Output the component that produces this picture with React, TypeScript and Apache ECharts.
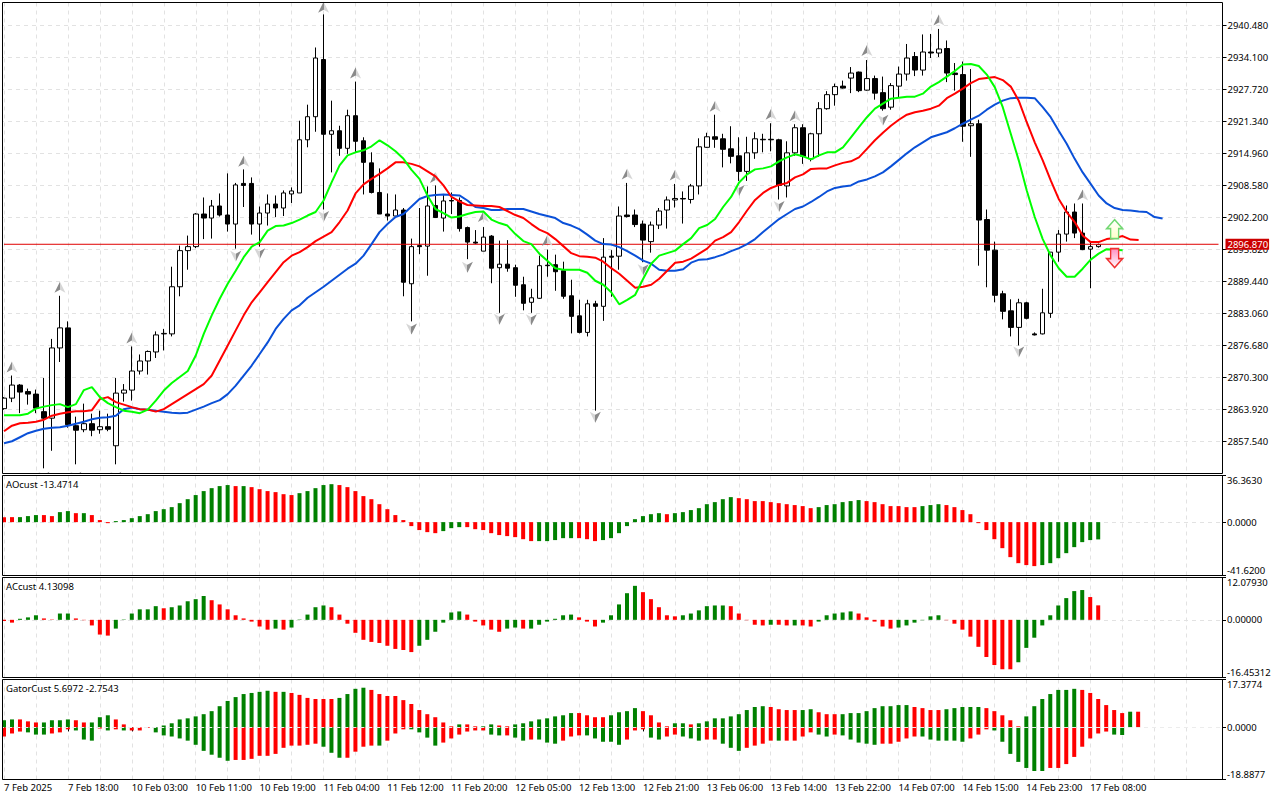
import React, { useEffect, useRef } from "react";
import * as echarts from "echarts";

const timeLabels = ["7 Feb 2025","7 Feb 18:00","10 Feb 03:00","10 Feb 11:00","10 Feb 19:00","11 Feb 04:00","11 Feb 12:00","11 Feb 20:00","12 Feb 05:00","12 Feb 13:00","12 Feb 21:00","13 Feb 06:00","13 Feb 14:00","13 Feb 22:00","14 Feb 07:00","14 Feb 15:00","14 Feb 23:00","17 Feb 08:00"];
const barSlots = 153;
const priceTicks = [2857.54,2863.92,2870.3,2876.68,2883.06,2889.44,2895.82,2902.2,2908.58,2914.96,2921.34,2927.72,2934.1,2940.48];
const lastPrice = 2896.87;

// open, close, low, high
const candles = [
[2864.1,2866.2,2863.9,2866.4],[2866.2,2868.8,2865.4,2870.7],[2868.8,2867.4,2863.2,2869.0],[2867.5,2867.0,2864.9,2868.1],[2867.0,2864.2,2863.2,2867.9],
[2863.5,2862.2,2852.2,2870.2],[2862.2,2876.2,2855.7,2878.0],[2876.2,2880.2,2873.4,2886.6],[2880.2,2860.9,2860.3,2881.5],[2860.7,2859.8,2853.0,2862.5],
[2859.9,2861.1,2859.4,2865.1],[2861.1,2859.8,2858.6,2863.1],[2859.9,2860.5,2859.1,2863.7],[2860.5,2860.0,2859.6,2863.1],[2856.7,2867.2,2853.0,2870.2],
[2867.2,2867.8,2865.5,2869.0],[2867.8,2871.6,2865.7,2876.5],[2871.6,2873.6,2870.9,2874.9],[2873.6,2875.5,2870.9,2875.7],[2875.4,2878.8,2874.2,2879.5],
[2879.0,2879.1,2875.7,2880.0],[2879.0,2888.4,2878.5,2892.4],[2888.4,2895.6,2886.5,2896.6],[2895.6,2896.4,2891.8,2898.6],[2896.4,2902.9,2896.1,2903.1],
[2902.9,2902.1,2897.9,2906.2],[2902.1,2904.5,2898.0,2905.7],[2904.5,2902.7,2902.4,2907.0],[2902.7,2900.9,2899.4,2911.0],[2900.9,2908.7,2896.0,2909.1],
[2909.0,2908.6,2904.3,2911.8],[2909.0,2900.9,2898.8,2910.2],[2900.9,2903.1,2896.4,2904.4],[2903.1,2904.9,2900.6,2906.8],[2904.9,2904.1,2902.3,2906.6],
[2904.1,2907.1,2902.5,2907.6],[2906.9,2907.5,2905.1,2908.2],[2907.1,2917.7,2907.1,2921.5],[2917.7,2922.3,2916.2,2924.7],[2922.3,2934.0,2919.3,2936.1],
[2933.7,2918.8,2903.8,2942.7],[2918.8,2919.5,2911.2,2925.5],[2919.5,2916.0,2914.5,2920.5],[2916.0,2922.5,2914.9,2923.7],[2922.5,2917.4,2915.2,2929.3],
[2917.5,2913.2,2906.8,2918.2],[2913.1,2907.2,2907.0,2915.2],[2907.2,2902.9,2902.9,2912.0],[2902.9,2902.5,2901.6,2907.0],[2902.5,2903.7,2902.1,2906.8],
[2903.7,2889.3,2886.5,2904.1],[2889.0,2896.4,2881.5,2898.0],[2896.6,2896.4,2894.9,2904.1],[2896.5,2904.5,2890.6,2908.4],[2904.6,2902.2,2902.1,2908.6],
[2902.1,2905.5,2899.4,2906.9],[2905.6,2905.5,2902.9,2907.2],[2905.6,2900.0,2899.4,2906.2],[2900.2,2897.3,2893.9,2900.4],[2897.3,2897.1,2896.9,2899.7],
[2895.5,2898.3,2895.5,2900.3],[2898.5,2892.1,2889.1,2898.7],[2892.2,2892.9,2883.2,2897.6],[2892.9,2892.1,2891.4,2897.7],[2892.2,2888.7,2886.4,2892.8],
[2888.8,2885.1,2883.7,2890.4],[2885.3,2886.2,2883.2,2888.0],[2886.1,2892.6,2886.0,2894.6],[2892.7,2892.6,2890.4,2895.8],[2892.8,2891.4,2887.6,2894.8],
[2891.6,2886.5,2886.0,2893.4],[2886.6,2882.5,2879.1,2889.8],[2882.6,2879.3,2879.1,2885.8],[2879.3,2885.0,2878.5,2885.8],[2885.0,2884.5,2863.7,2885.6],
[2884.5,2894.3,2881.6,2898.1],[2894.5,2894.3,2886.4,2895.7],[2894.5,2902.5,2891.8,2904.4],[2902.7,2902.4,2902.2,2909.1],[2902.7,2900.8,2900.3,2903.8],
[2900.9,2897.7,2893.3,2901.6],[2897.4,2900.7,2895.2,2901.4],[2900.7,2903.5,2899.9,2904.1],[2903.7,2905.7,2900.0,2906.4],[2905.7,2906.0,2904.2,2908.9],
[2906.0,2905.9,2901.0,2907.4],[2905.8,2908.5,2905.0,2908.9],[2908.5,2916.3,2906.8,2918.0],[2916.2,2918.3,2916.1,2919.1],[2918.3,2917.8,2916.1,2922.7],
[2917.9,2915.8,2912.2,2918.9],[2915.9,2914.4,2913.0,2920.4],[2914.5,2911.4,2909.5,2918.2],[2911.4,2915.1,2909.5,2918.3],[2915.1,2917.9,2913.9,2919.2],
[2917.8,2917.7,2915.2,2918.9],[2917.8,2917.7,2915.4,2921.0],[2917.7,2908.6,2905.8,2917.9],[2908.5,2915.1,2906.2,2917.4],[2915.1,2920.1,2914.5,2920.8],
[2920.1,2914.4,2912.9,2920.8],[2913.9,2918.9,2913.4,2919.1],[2918.9,2923.9,2914.3,2925.2],[2923.9,2926.7,2923.7,2927.4],[2926.7,2928.3,2924.5,2928.9],
[2928.4,2928.0,2927.9,2929.5],[2930.0,2931.0,2927.0,2932.2],[2931.2,2927.5,2927.2,2931.3],[2927.6,2929.9,2927.5,2933.6],[2929.9,2927.0,2925.7,2930.5],
[2927.1,2923.9,2923.5,2930.3],[2924.2,2928.5,2923.7,2929.0],[2928.4,2930.8,2926.2,2932.3],[2930.8,2934.0,2929.5,2936.8],[2934.3,2931.6,2930.4,2935.2],
[2931.6,2935.2,2930.5,2938.7],[2935.2,2935.0,2934.0,2938.8],[2935.0,2935.8,2934.2,2939.8],[2935.9,2931.0,2929.2,2937.5],[2931.0,2930.7,2927.5,2933.0],
[2930.7,2920.4,2917.3,2933.3],[2920.5,2920.9,2914.3,2931.8],[2920.9,2901.7,2892.6,2921.7],[2901.8,2895.7,2888.3,2903.8],[2895.7,2886.7,2885.3,2897.4],
[2887.0,2883.5,2881.9,2887.6],[2883.6,2880.3,2878.5,2885.9],[2880.3,2885.2,2876.7,2886.0],[2885.2,2882.1,2881.9,2885.4],[2879.0,2878.8,2878.7,2879.3],
[2879.0,2883.2,2878.9,2888.0],[2883.1,2895.3,2882.2,2895.3],[2895.3,2898.9,2893.4,2899.7],[2898.9,2903.3,2897.4,2904.6],[2903.3,2899.1,2898.1,2905.0],
[2899.1,2895.8,2895.7,2905.0],[2895.9,2896.4,2888.1,2897.5],[2896.4,2896.8,2896.2,2897.0],
];

const greenLine = [
2862.8,2862.8,2862.8,2863.1,2864.1,2864.5,2864.8,2865.0,2864.4,2865.0,
2867.8,2868.4,2866.4,2865.2,2864.4,2863.7,2863.5,2863.2,2863.9,2865.7,
2867.7,2869.2,2870.4,2871.6,2874.7,2879.0,2882.7,2886.0,2889.0,2891.6,
2894.3,2896.4,2897.3,2899.6,2900.5,2900.6,2901.1,2901.8,2902.6,2903.3,
2905.6,2909.2,2912.6,2914.6,2915.2,2915.6,2916.4,2917.6,2916.6,2915.4,
2913.9,2911.7,2909.9,2906.6,2903.9,2903.1,2902.2,2902.4,2902.9,2903.3,
2903.4,2901.8,2901.1,2900.6,2898.9,2897.5,2896.9,2895.0,2893.6,2892.1,
2891.8,2891.8,2891.8,2891.2,2889.6,2888.8,2887.3,2884.9,2885.8,2886.8,
2890.0,2893.0,2894.6,2895.1,2895.6,2896.9,2898.1,2900.1,2900.7,2901.9,
2904.3,2906.3,2909.2,2910.8,2911.8,2912.0,2912.4,2913.4,2914.2,2914.8,
2914.4,2913.8,2914.6,2915.2,2915.2,2916.2,2918.2,2920.2,2922.2,2923.9,
2924.9,2925.9,2926.1,2926.3,2926.3,2926.9,2928.3,2929.2,2930.3,2931.4,
2932.7,2932.8,2932.4,2930.7,2928.2,2924.2,2918.9,2913.6,2907.6,2902.3,
2897.9,2894.6,2892.1,2890.4,2890.4,2892.0,2893.8,2895.0,2895.9,2895.8,
2895.7,
];
const redLine = [
2859.6,2860.7,2861.2,2861.3,2861.5,2861.9,2862.7,2863.1,2863.4,2863.6,
2863.6,2863.8,2866.0,2866.4,2865.4,2864.9,2864.4,2864.0,2863.9,2863.5,
2864.0,2865.0,2866.0,2867.0,2868.0,2869.0,2870.7,2873.7,2876.7,2879.7,
2882.7,2885.3,2887.3,2889.3,2891.3,2893.3,2894.6,2895.3,2896.3,2897.5,
2898.4,2899.3,2901.3,2903.6,2907.0,2908.8,2909.9,2910.9,2912.0,2913.2,
2913.2,2912.9,2912.4,2911.4,2910.4,2908.6,2906.3,2905.4,2904.7,2904.6,
2904.5,2904.5,2904.3,2903.5,2902.7,2902.1,2900.9,2899.8,2899.1,2897.9,
2896.5,2895.1,2894.5,2894.4,2894.2,2893.4,2892.1,2891.0,2889.6,2888.2,
2888.4,2888.8,2890.0,2891.6,2893.2,2893.4,2894.0,2895.0,2896.0,2897.6,
2898.3,2899.3,2901.3,2903.6,2905.7,2907.1,2908.1,2908.7,2909.1,2910.2,
2910.8,2911.9,2912.0,2912.0,2912.6,2913.1,2913.4,2914.2,2915.9,2917.6,
2919.1,2920.5,2921.7,2922.7,2923.2,2923.5,2923.9,2924.5,2926.0,2926.9,
2927.9,2929.0,2929.8,2930.0,2930.2,2929.6,2928.3,2925.5,2921.2,2917.2,
2913.6,2909.6,2905.9,2903.3,2901.3,2898.6,2897.3,2897.3,2897.9,2898.1,
2898.5,2897.8,2897.7,
];
const blueLine = [
2857.2,2857.6,2858.4,2859.2,2859.7,2860.1,2860.3,2860.4,2860.7,2861.1,
2861.5,2862.0,2862.3,2862.4,2862.7,2864.0,2864.3,2864.0,2863.9,2863.7,
2863.5,2863.3,2863.2,2863.3,2863.9,2864.5,2865.2,2865.8,2867.0,2868.7,
2870.7,2872.7,2875.0,2877.3,2880.0,2882.0,2883.7,2884.7,2886.2,2887.3,
2888.4,2889.6,2890.8,2892.0,2893.0,2894.6,2896.9,2899.3,2900.9,2902.3,
2902.9,2904.4,2905.9,2906.5,2906.7,2906.8,2906.7,2906.6,2905.6,2904.3,
2904.1,2903.7,2903.7,2903.9,2903.9,2903.9,2903.4,2902.9,2902.5,2902.1,
2901.1,2900.6,2899.9,2898.8,2897.6,2896.9,2896.8,2896.3,2895.5,2894.6,
2893.6,2893.0,2891.8,2891.6,2891.6,2891.9,2893.2,2893.8,2893.9,2894.3,
2894.8,2895.5,2896.1,2896.9,2897.9,2899.3,2900.6,2901.9,2902.9,2903.9,
2904.4,2905.3,2906.3,2907.4,2908.1,2908.4,2908.6,2909.4,2909.8,2910.4,
2911.2,2912.4,2913.7,2915.0,2916.2,2917.2,2918.2,2918.7,2919.2,2920.0,
2920.9,2921.7,2922.5,2923.7,2924.7,2925.5,2926.0,2926.1,2926.1,2926.0,
2924.2,2922.2,2919.5,2916.9,2913.9,2911.2,2908.9,2906.6,2905.0,2904.1,
2903.7,2903.6,2903.4,2903.3,2902.3,2902.0,
];

// [bar index, price] of the fractal marks
const fractalsUp = [[1,2872.4],[7,2888.3],[16,2878.2],[30,2913.4],[40,2944.1],[44,2931.0],[54,2910.2],[60,2902.4],[68,2897.6],[78,2910.9],[84,2910.7],[89,2924.4],[96,2922.8],[99,2922.5],[108,2935.5],[117,2941.6],[135,2906.7]];
const fractalsDown = [[5,2850.4],[9,2850.4],[14,2850.4],[29,2894.5],[32,2895.0],[40,2902.4],[51,2880.0],[58,2892.3],[62,2881.9],[66,2881.8],[74,2862.4],[80,2891.8],[92,2907.6],[97,2904.4],[110,2921.6],[127,2875.4]];
const signalUp = [[139,2899.9]];
const signalDown = [[139,2894.1]];
const lastPriceSpan = [[0,lastPrice],[152,lastPrice]];

const aoValues = [
3.9,3.9,3.9,4.7,5.5,5.5,4.7,7.8,8.6,7.0,
7.0,5.5,1.6,-0.8,0.8,1.6,3.1,4.7,6.2,8.6,
10.1,11.7,14.8,17.9,21.1,24.2,26.5,28.1,28.9,28.1,
28.1,27.3,25.7,24.2,23.4,21.8,21.1,22.6,24.2,26.5,
28.9,29.6,28.9,27.3,24.2,20.3,17.9,14.0,10.1,5.5,
1.6,-3.1,-6.2,-7.8,-8.6,-7.0,-4.7,-3.9,-3.9,-5.5,
-6.2,-8.6,-10.1,-10.9,-11.7,-13.3,-14.8,-14.8,-14.8,-14.0,
-12.5,-12.5,-12.5,-13.3,-14.8,-14.0,-12.5,-8.6,-3.1,2.3,
4.7,6.2,7.0,6.2,7.0,7.8,9.4,10.9,14.0,15.6,
17.9,19.5,18.7,17.9,16.4,16.4,15.6,14.8,14.0,13.3,
12.5,10.9,11.7,13.3,14.0,15.6,16.4,17.2,16.4,15.6,
14.0,12.5,12.5,11.7,11.7,12.5,13.3,14.0,13.3,11.7,
9.4,6.2,-0.8,-6.2,-13.3,-20.3,-27.3,-32.0,-33.5,-34.3,
-33.5,-32.0,-28.1,-24.2,-19.5,-15.6,-14.0,-13.47,
];
const aoDirections = "rrgggrrggr"+"grrrgggggg"+"gggggggggr"+"grrrrrrggg"+"ggrrrrrrrr"+"rrrrrgggrr"+"rrrrrrrggg"+"ggrrrggggg"+"gggrgggggg"+"ggrrrrrrrr"+"rrggggggrr"+"rrrrrgggrr"+"rrrrrrrrrr"+"gggggggg";

const acValues = [
-0.3,-0.8,0.3,0.7,1.3,0.4,0.1,1.8,1.8,0.4,
-0.1,-1.6,-4.2,-4.5,-2.5,0.1,1.8,3.0,3.0,3.9,
3.3,3.6,4.1,5.3,5.9,6.8,5.6,4.4,3.0,1.3,
0.4,-0.5,-1.9,-2.8,-2.5,-2.8,-2.2,0.1,1.5,3.6,
4.1,3.6,1.5,-1.1,-3.7,-5.7,-6.3,-6.6,-7.4,-8.3,
-8.6,-9.2,-7.4,-5.7,-3.4,-0.8,2.1,2.4,1.5,-0.5,
-1.6,-2.8,-3.4,-2.5,-2.2,-2.5,-2.5,-1.4,-0.5,0.3,
1.3,1.5,0.7,-0.5,-1.9,-0.8,1.3,4.4,7.6,9.7,
7.9,5.9,3.6,1.3,1.0,1.3,1.8,2.7,3.9,4.1,
4.1,3.9,1.8,-0.1,-1.4,-1.6,-1.4,-1.4,-1.6,-1.6,
-1.6,-1.9,-0.5,1.3,1.8,2.1,2.4,1.8,0.7,-0.5,
-1.9,-2.5,-2.2,-1.6,-0.8,-0.1,1.0,1.3,-0.1,-1.1,
-2.8,-4.8,-7.7,-10.6,-12.9,-14.1,-14.1,-12.1,-8.0,-5.1,
-1.6,1.3,4.1,6.2,8.2,8.5,6.5,4.13,
];
const acDirections = "rrgggrrggr"+"rrrrgggggg"+"rgggggrrrr"+"rrrrgrgggg"+"grrrrrrrrr"+"rrggggggrr"+"rrrggrgggg"+"ggrrrggggg"+"rrrrrggggg"+"grrrrrgrrg"+"rrgggggrrr"+"rrggggggrr"+"rrrrrrrggg"+"ggggggrr";

const gatorUpper = [
2.6,2.9,2.9,2.2,1.8,1.8,2.6,2.6,2.9,2.6,
1.8,1.8,3.7,4.4,2.9,1.1,0,0,0.1,0.1,
0.7,1.5,2.9,3.3,4.0,4.8,5.9,7.7,9.6,11.0,
12.1,12.5,12.9,13.3,12.9,12.9,12.5,11.8,10.7,10.3,
10.3,10.3,10.7,12.1,14.0,14.4,13.6,12.1,11.4,11.4,
9.9,8.5,6.3,4.8,3.7,1.8,0.4,1.1,1.1,0.4,
0.4,1.1,0.7,0.4,1.1,1.5,2.2,2.9,3.3,4.0,
4.4,5.2,5.2,4.4,3.7,3.7,4.4,5.5,5.9,7.0,
5.9,4.4,1.8,0.4,1.5,1.5,1.1,1.5,2.2,3.3,
3.3,4.0,4.8,6.3,7.4,7.7,7.4,6.6,6.3,6.3,
6.3,6.6,5.5,4.8,4.8,4.8,5.2,5.2,5.9,7.0,
7.7,7.7,8.1,8.1,7.4,7.0,6.3,6.3,6.6,7.0,
7.4,7.4,7.4,7.0,5.9,4.4,2.6,0.4,4.0,7.7,
10.3,12.1,13.6,13.6,14.0,13.6,12.5,10.3,8.1,6.3,
5.2,5.7,5.6972,
];
const gatorUpperDirections = "ggrrrggggr"+"rgggrrrrrg"+"gggggggggg"+"ggggrgrrrr"+"rrggggrrrr"+"rrrrrrrgrr"+"ggrrgggggg"+"ggrrrrgggg"+"rrrrggrggg"+"ggggggrrrr"+"ggrrrggggg"+"ggggrrrrgg"+"gggrrrrrgg"+"gggggrrrrrrgr";
const gatorLower = [
-3.3,-2.2,-1.5,-1.8,-2.6,-2.6,-2.2,-1.8,-0.7,-1.1,
-4.4,-4.8,-0.4,-1.1,-0.7,-1.1,-1.1,-1.1,-0.2,-1.8,
-2.9,-3.3,-4.0,-4.8,-6.3,-8.5,-9.9,-11.0,-12.1,-11.8,
-11.8,-11.4,-10.3,-10.3,-9.6,-7.4,-6.6,-6.6,-6.3,-5.9,
-7.0,-9.2,-11.0,-11.0,-8.8,-7.0,-6.6,-6.6,-4.8,-2.2,
-0.7,-0.7,-1.8,-3.7,-6.6,-5.5,-4.0,-2.6,-1.5,-1.1,
-1.1,-2.6,-2.9,-2.9,-3.7,-4.8,-4.4,-4.4,-5.5,-5.9,
-4.8,-3.3,-2.9,-2.9,-4.0,-5.2,-5.2,-6.3,-4.4,-1.1,
-0.7,-3.7,-4.4,-3.3,-2.6,-3.3,-4.0,-4.8,-4.4,-4.4,
-5.9,-7.4,-8.5,-7.4,-6.6,-5.9,-4.8,-4.8,-4.8,-4.8,
-3.3,-1.8,-2.6,-3.3,-2.6,-2.9,-4.4,-5.5,-5.9,-6.3,
-5.9,-5.9,-5.2,-4.0,-3.3,-3.3,-4.4,-4.8,-4.8,-4.8,
-5.2,-4.0,-2.6,-0.7,-1.1,-5.2,-9.6,-12.5,-14.7,-15.8,
-15.8,-14.7,-14.7,-13.3,-10.7,-7.0,-4.0,-2.2,-1.5,-2.6,
-2.7543,
];
const gatorLowerDirections = "rrrgggrrrg"+"ggrgrgrrrg"+"gggggggggr"+"rrrrrrrrrr"+"gggrrrrgrr"+"rggggrrrrr"+"rggrggrggg"+"rrrgggggrr"+"rggrrgggrr"+"gggrrrrgrr"+"rrggrggggg"+"rrrrrggggg"+"grrrgggggg"+"grrrrrrrrgg";

const legendTexts = ["AOcust -13.4714", "ACcust 4.13098", "GatorCust 5.6972 -2.7543"];
const aoTicks = [-41.62, 0, 36.363];
const acTicks = [-16.45312, 0, 12.0793];
const gatorTicks = [-18.8877, 0, 17.3774];

const FONT = "Noto Sans";
const FONT_SIZE = 9.5;
const GRID = "#e2e2e2";
const UP = "#008000";
const DOWN = "#ff0000";
const PRICE_RED = "#e00000";

const categories = Array.from({ length: barSlots }, (_, i) => (i % 8 === 0 && timeLabels[i / 8]) || "");
const paint = (values: number[], dirs: string) =>
  values.map((v, i) => ({ value: v, itemStyle: { color: dirs[i] === "g" ? UP : DOWN } }));

const panes = [
  { top: 2.5, height: 471, left: -1.5 },
  { top: 475.5, height: 100, left: -2 },
  { top: 577.5, height: 100, left: -2 },
  { top: 679.5, height: 100, left: -2 },
];

const UP_MARK = "path://M5.5 0 L11 11 L5.5 8 L0 11 Z";
const DOWN_MARK = "path://M5.5 11 L11 0 L5.5 3 L0 0 Z";
const BIG_UP = "path://M8 0 L16 9 L12 9 L12 19 L4 19 L4 9 L0 9 Z";
const BIG_DOWN = "path://M8 19 L16 10 L12 10 L12 0 L4 0 L4 10 L0 10 Z";
const shade = (a: string, b: string) => ({
  type: "linear", x: 0, y: 0, x2: 1, y2: 0,
  colorStops: [{ offset: 0, color: a }, { offset: 0.5, color: a }, { offset: 0.5, color: b }, { offset: 1, color: b }],
});
const fade = (a: string, b: string) => ({
  type: "linear", x: 0, y: 0, x2: 0, y2: 1,
  colorStops: [{ offset: 0, color: a }, { offset: 1, color: b }],
});

export default function App() {
  const ref = useRef<HTMLDivElement>(null);
  useEffect(() => {
    document.body.style.margin = "0";
    const chart = echarts.init(ref.current!, null, { renderer: "svg" });
    const xAxis = panes.map((_, g) => ({
      type: "category",
      gridIndex: g,
      data: categories,
      boundaryGap: true,
      axisLine: { show: false },
      axisTick: { show: g === 3, alignWithLabel: true, length: 4, lineStyle: { color: "#000" }, interval: (i: number) => i % 8 === 0 && i <= 136 },
      axisLabel: {
        show: g === 3, interval: (i: number) => i % 8 === 0 && i <= 136, align: "left", margin: 3,
        color: "#000", fontFamily: FONT, fontSize: FONT_SIZE, hideOverlap: false,
      },
      splitLine: {
        show: true, alignWithLabel: true, interval: (i: number) => i % 4 === 0 && i <= 148,
        lineStyle: { color: GRID, type: [4, 4], width: 1 },
      },
    }));
    const yAxisBase = {
      position: "right",
      axisLine: { show: false },
      splitLine: { show: true, lineStyle: { color: GRID, type: [4, 4], width: 1 } },
    };
    const paneAxis = (g: number, ticks: number[], digits: number) => ({
      ...yAxisBase,
      type: "value",
      gridIndex: g,
      min: ticks[0],
      max: ticks[2],
      axisTick: { show: true, length: 4, lineStyle: { color: "#000" }, customValues: ticks },
      axisLabel: {
        customValues: ticks, margin: 5, color: "#000", fontFamily: FONT, fontSize: FONT_SIZE,
        showMinLabel: true, showMaxLabel: true,
        verticalAlignMaxLabel: "top", verticalAlignMinLabel: "bottom",
        formatter: (v: number) => v.toFixed(digits),
      },
    });
    const yAxis = [
      {
        ...yAxisBase,
        type: "value",
        gridIndex: 0,
        min: 2851.17,
        max: 2945.07,
        axisTick: { show: true, length: 4, lineStyle: { color: "#000" }, customValues: priceTicks },
        axisLabel: { customValues: priceTicks, margin: 5, color: "#000", fontFamily: FONT, fontSize: FONT_SIZE, formatter: (v: number) => v.toFixed(3) },
      },
      paneAxis(1, aoTicks, 4),
      paneAxis(2, acTicks, 5),
      paneAxis(3, gatorTicks, 4),
    ];
    const frames = panes.map((p) => ({
      type: "rect", z: 101, silent: true,
      shape: { x: 2.5, y: p.top, width: 1220, height: p.height },
      style: { fill: "none", stroke: "#000", lineWidth: 1 },
    }));
    const masks = [
      { x: 0, y: 0, width: 2, height: 800 },
      { x: 37, y: 474, width: 12, height: 11 },
      { x: 69, y: 474, width: 12, height: 11 },
      { x: 109, y: 474, width: 12, height: 11 },
    ].map((shape) => ({ type: "rect", z: 100, silent: true, shape, style: { fill: "#fff" } }));
    const legends = legendTexts.map((text, i) => ({
      type: "text", z: 102, silent: true, x: 6, y: panes[i + 1].top + 4,
      style: { text, fill: "#000", font: `${FONT_SIZE}px "${FONT}"` },
    }));
    chart.setOption({
      animation: false,
      grid: panes.map((p) => ({ left: p.left, width: barSlots * 8, top: p.top, height: p.height })),
      xAxis,
      yAxis,
      graphic: [...masks, ...frames, ...legends],
      series: [
        {
          type: "candlestick", xAxisIndex: 0, yAxisIndex: 0, barWidth: 5, data: candles, z: 3,
          itemStyle: { color: "#fff", color0: "#000", borderColor: "#000", borderColor0: "#000", borderWidth: 1 },
        },
        {
          type: "line", xAxisIndex: 0, yAxisIndex: 0, data: lastPriceSpan, showSymbol: false, z: 4, clip: false,
          lineStyle: { color: PRICE_RED, type: "solid", width: 1 },
          endLabel: {
            show: true, distance: 7, formatter: () => lastPrice.toFixed(3), color: "#fff", backgroundColor: "#cc0000",
            fontFamily: FONT, fontSize: FONT_SIZE, padding: [1, 1, 0, 2],
          },
        },
        { type: "line", xAxisIndex: 0, yAxisIndex: 0, data: blueLine, showSymbol: false, z: 5, lineStyle: { color: "#0a50d8", width: 2 } },
        { type: "line", xAxisIndex: 0, yAxisIndex: 0, data: redLine, showSymbol: false, z: 5, lineStyle: { color: "#ff0000", width: 2 } },
        { type: "line", xAxisIndex: 0, yAxisIndex: 0, data: greenLine, showSymbol: false, z: 5, lineStyle: { color: "#00ff00", width: 2 } },
        {
          type: "scatter", xAxisIndex: 0, yAxisIndex: 0, data: fractalsUp, symbol: UP_MARK, symbolSize: [11, 11], clip: false, z: 4,
          itemStyle: { color: shade("#8a8a8a", "#d6d6d6"), opacity: 1 },
        },
        {
          type: "scatter", xAxisIndex: 0, yAxisIndex: 0, data: fractalsDown, symbol: DOWN_MARK, symbolSize: [11, 11], clip: false, z: 4,
          itemStyle: { color: shade("#d6d6d6", "#8a8a8a"), opacity: 1 },
        },
        {
          type: "scatter", xAxisIndex: 0, yAxisIndex: 0, data: signalUp, symbol: BIG_UP, symbolSize: [16, 19], z: 6,
          itemStyle: { color: fade("#ffffff", "#ffffc8"), borderColor: "#72d872", borderWidth: 1.5, opacity: 1 },
        },
        {
          type: "scatter", xAxisIndex: 0, yAxisIndex: 0, data: signalDown, symbol: BIG_DOWN, symbolSize: [16, 19], z: 6,
          itemStyle: { color: fade("#ff90c0", "#ffffff"), borderColor: "#f03030", borderWidth: 1.5, opacity: 1 },
        },
        { type: "bar", xAxisIndex: 1, yAxisIndex: 1, barWidth: 4, data: paint(aoValues, aoDirections) },
        { type: "bar", xAxisIndex: 2, yAxisIndex: 2, barWidth: 4, data: paint(acValues, acDirections) },
        { type: "bar", xAxisIndex: 3, yAxisIndex: 3, barWidth: 4, barGap: "-100%", data: paint(gatorUpper, gatorUpperDirections) },
        {
          type: "bar", xAxisIndex: 3, yAxisIndex: 3, barWidth: 4, barGap: "-100%", data: paint(gatorLower, gatorLowerDirections),
          markLine: {
            silent: true, symbol: "none", animation: false, label: { show: false },
            lineStyle: { color: "#ececec", type: [4, 4], width: 1 },
            data: [{ yAxis: 0 }],
          },
        },
      ],
    } as any);
    return () => chart.dispose();
  }, []);
  return <div ref={ref} style={{ width: 1280, height: 800, position: "absolute", left: 0, top: 0 }} />;
}
